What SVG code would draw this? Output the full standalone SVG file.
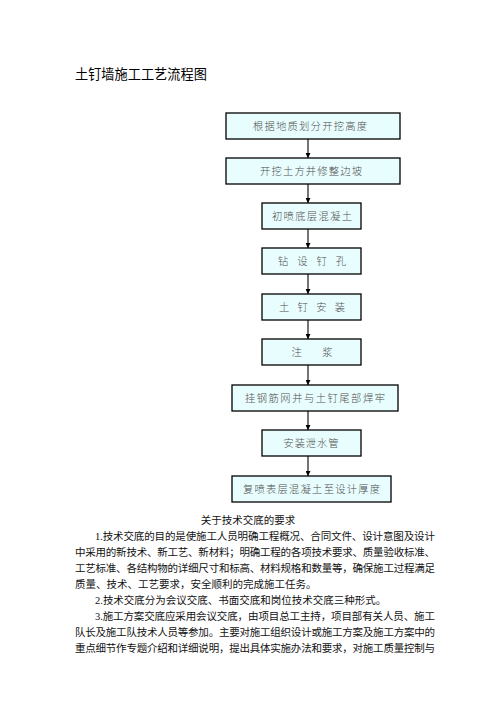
<svg xmlns="http://www.w3.org/2000/svg" width="496" height="702" viewBox="0 0 496 702">
<style>
.box{fill:#E8FDFD;stroke:#000;stroke-width:1.3}
.bt{font-family:"Noto Sans CJK SC",sans-serif;font-size:10.3px;font-weight:300;fill:#505050;text-anchor:middle}
.body{font-family:"Liberation Serif","Noto Sans CJK SC",serif;font-size:10.5px;fill:#111}
.conn{stroke:#000;stroke-width:1.1;fill:none}
</style>
<defs>
<marker id="ah" viewBox="0 0 8 8" refX="8" refY="4" markerWidth="5" markerHeight="5" orient="auto" markerUnits="userSpaceOnUse">
<path d="M0,0 L8,4 L0,8 z" fill="#000"/>
</marker>
</defs>
<rect width="496" height="702" fill="#fff"/>
<text x="75" y="79" font-family="Noto Sans CJK SC,sans-serif" font-size="13.2" fill="#000">土钉墙施工工艺流程图</text>

<g id="connectors">
<line class="conn" x1="308" y1="139" x2="308" y2="158" marker-end="url(#ah)"/>
<line class="conn" x1="308" y1="184" x2="308" y2="203" marker-end="url(#ah)"/>
<line class="conn" x1="308" y1="229" x2="308" y2="248" marker-end="url(#ah)"/>
<line class="conn" x1="308" y1="274" x2="308" y2="294" marker-end="url(#ah)"/>
<line class="conn" x1="308" y1="320" x2="308" y2="339" marker-end="url(#ah)"/>
<line class="conn" x1="308" y1="365" x2="308" y2="385" marker-end="url(#ah)"/>
<line class="conn" x1="308" y1="411" x2="308" y2="430" marker-end="url(#ah)"/>
<line class="conn" x1="308" y1="456" x2="308" y2="476" marker-end="url(#ah)"/>
</g>

<g id="n1"><rect class="box" x="226" y="113" width="174" height="26"/><text class="bt" x="310" y="130" textLength="114" lengthAdjust="spacing">根据地质划分开挖高度</text></g>
<g id="n2"><rect class="box" x="226" y="158" width="174" height="26"/><text class="bt" x="311" y="175" textLength="102" lengthAdjust="spacing">开挖土方并修整边坡</text></g>
<g id="n3"><rect class="box" x="262" y="203" width="99" height="26"/><text class="bt" x="312" y="220" textLength="80" lengthAdjust="spacing">初喷底层混凝土</text></g>
<g id="n4"><rect class="box" x="262" y="248" width="99" height="26"/><text class="bt" x="312" y="265" textLength="68" lengthAdjust="spacing">钻 设 钉 孔</text></g>
<g id="n5"><rect class="box" x="262" y="294" width="99" height="26"/><text class="bt" x="312" y="311" textLength="66" lengthAdjust="spacing">土 钉 安 装</text></g>
<g id="n6"><rect class="box" x="262" y="339" width="99" height="26"/><text class="bt" x="312" y="356" textLength="41" lengthAdjust="spacing" xml:space="preserve">注    浆</text></g>
<g id="n7"><rect class="box" x="232" y="385" width="166" height="26"/><text class="bt" x="315" y="402" textLength="140" lengthAdjust="spacing">挂钢筋网并与土钉尾部焊牢</text></g>
<g id="n8"><rect class="box" x="262" y="430" width="99" height="26"/><text class="bt" x="311" y="447" textLength="55" lengthAdjust="spacing">安装泄水管</text></g>
<g id="n9"><rect class="box" x="232" y="476" width="159" height="26"/><text class="bt" x="311.5" y="493" textLength="137" lengthAdjust="spacing">复喷表层混凝土至设计厚度</text></g>

<g id="bodytext">
<text class="body" x="248" y="524" text-anchor="middle">关于技术交底的要求</text>
<text class="body" x="95" y="540" textLength="340" lengthAdjust="spacing">1.技术交底的目的是使施工人员明确工程概况、合同文件、设计意图及设计</text>
<text class="body" x="75" y="556" textLength="360" lengthAdjust="spacing">中采用的新技术、新工艺、新材料；明确工程的各项技术要求、质量验收标准、</text>
<text class="body" x="75" y="572" textLength="360" lengthAdjust="spacing">工艺标准、各结构物的详细尺寸和标高、材料规格和数量等，确保施工过程满足</text>
<text class="body" x="75" y="588">质量、技术、工艺要求，安全顺利的完成施工任务。</text>
<text class="body" x="95" y="604">2.技术交底分为会议交底、书面交底和岗位技术交底三种形式。</text>
<text class="body" x="95" y="620" textLength="340" lengthAdjust="spacing">3.施工方案交底应采用会议交底，由项目总工主持，项目部有关人员、施工</text>
<text class="body" x="75" y="636" textLength="360" lengthAdjust="spacing">队长及施工队技术人员等参加。主要对施工组织设计或施工方案及施工方案中的</text>
<text class="body" x="75" y="652" textLength="360" lengthAdjust="spacing">重点细节作专题介绍和详细说明，提出具体实施办法和要求，对施工质量控制与</text>
</g>
</svg>
